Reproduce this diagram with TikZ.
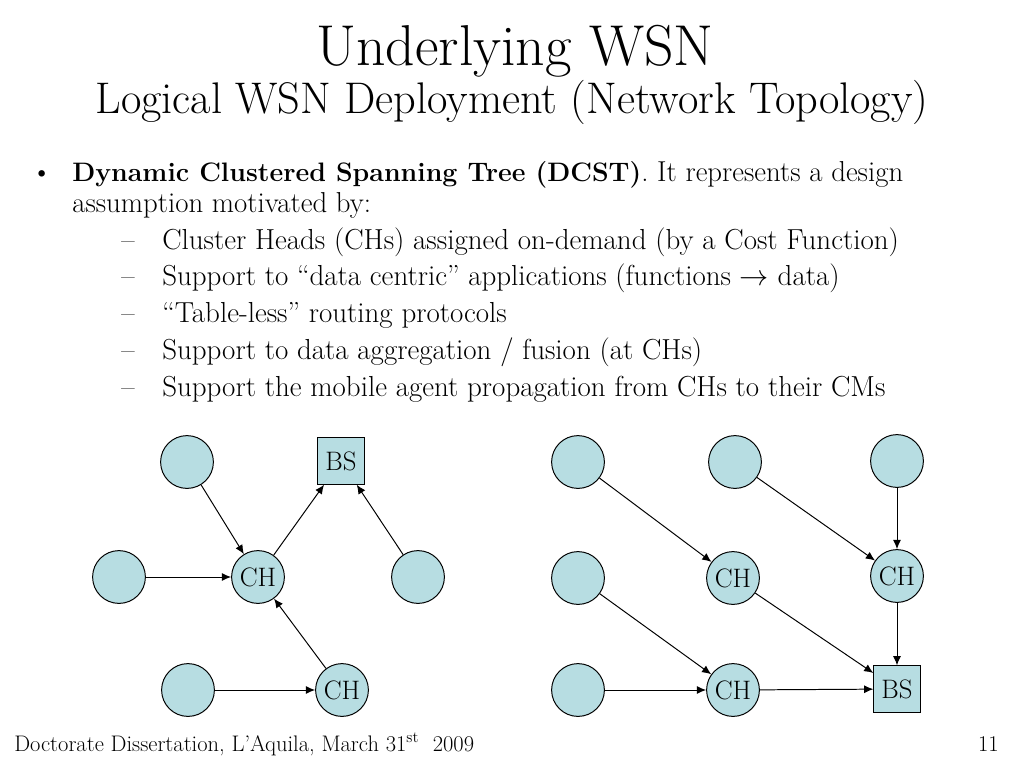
\documentclass[tikz,border=0pt]{standalone}
\usepackage{amsmath, amssymb}
\usepackage{tikz}
\usetikzlibrary{arrows.meta, positioning}
\definecolor{nodecyan}{RGB}{183, 221, 226}
\tikzset{
  sensor/.style={circle, draw=black, fill=nodecyan, line width=0.7pt, minimum size=13.2mm, inner sep=0pt, font=\fontsize{19}{21}\selectfont},
  basestation/.style={rectangle, draw=black, fill=nodecyan, line width=0.7pt, minimum size=11.6mm, inner sep=0pt, font=\fontsize{19}{21}\selectfont},
  link/.style={-{Latex[length=2.3mm, width=2mm]}, line width=0.7pt},
  bodytext/.style={anchor=base west, inner sep=0pt, font=\fontsize{20.5}{24}\selectfont},
  subtext/.style={anchor=base west, inner sep=0pt, font=\fontsize{20.6}{24}\selectfont},
  foottext/.style={inner sep=0pt, font=\fontsize{16}{18}\selectfont}
}

\begin{document}
\begin{tikzpicture}[x=0.25mm, y=-0.25mm]
    \useasboundingbox (0, 0) rectangle (1024, 768);

    % Title
    \node[anchor=base, inner sep=0pt, font=\fontsize{41}{45}\selectfont] (title) at (515, 65) {Underlying WSN};
    \node[anchor=base, inner sep=0pt, font=\fontsize{31.5}{35}\selectfont] (subtitle) at (512, 113) {Logical WSN Deployment (Network Topology)};

    % Bullet list
    \node[bodytext] (dot) at (31, 181) {\textbullet};
    \node[bodytext] (item) at (72, 181) {{\fontsize{19}{22}\selectfont\textbf{Dynamic Clustered Spanning Tree (DCST)}}. It represents a design};
    \node[bodytext] (item2) at (72, 212) {assumption motivated by:};
    \foreach \y/\txt in {249/{Cluster Heads (CHs) assigned on-demand (by a Cost Function)},
                         285/{Support to ``data centric'' applications (functions $\rightarrow$ data)},
                         322/{``Table-less'' routing protocols},
                         359/{Support to data aggregation / fusion (at CHs)},
                         396/{Support the mobile agent propagation from CHs to their CMs}} {
        \node[subtext] (dash\y) at (121, \y) {\textendash};
        \node[subtext] (sub\y) at (162, \y) {\txt};
    }

    % Left topology
    \node[sensor] (la) at (187, 462) {};
    \node[basestation] (lbs) at (341, 461) {BS};
    \node[sensor] (lb) at (119, 577) {};
    \node[sensor] (lch1) at (258, 577) {CH};
    \node[sensor] (lc) at (418, 577) {};
    \node[sensor] (ld) at (188, 690) {};
    \node[sensor] (lch2) at (342, 690) {CH};

    \draw[link] (la) -- (lch1);
    \draw[link] (lb) -- (lch1);
    \draw[link] (lch1) -- (lbs);
    \draw[link] (lc) -- (lbs);
    \draw[link] (lch2) -- (lch1);
    \draw[link] (ld) -- (lch2);

    % Right topology
    \node[sensor] (ra) at (578, 462) {};
    \node[sensor] (rb) at (735, 462) {};
    \node[sensor] (rc) at (897, 461) {};
    \node[sensor] (rd) at (578, 578) {};
    \node[sensor] (rch1) at (733, 578) {CH};
    \node[sensor] (rch2) at (897, 576) {CH};
    \node[sensor] (re) at (578, 690) {};
    \node[sensor] (rch3) at (733, 690) {CH};
    \node[basestation] (rbs) at (897, 689) {BS};

    \draw[link] (ra) -- (rch1);
    \draw[link] (rb) -- (rch2);
    \draw[link] (rc) -- (rch2);
    \draw[link] (rd) -- (rch3);
    \draw[link] (re) -- (rch3);
    \draw[link] (rch1) -- (rbs);
    \draw[link] (rch2) -- (rbs);
    \draw[link] (rch3) -- (rbs);

    % Footer
    \node[foottext, anchor=base west] (foot) at (14, 751) {Doctorate Dissertation, L'Aquila, March 31\textsuperscript{st}\ \ 2009};
    \node[foottext, anchor=base east] (page) at (999, 751) {11};
\end{tikzpicture}
\end{document}
